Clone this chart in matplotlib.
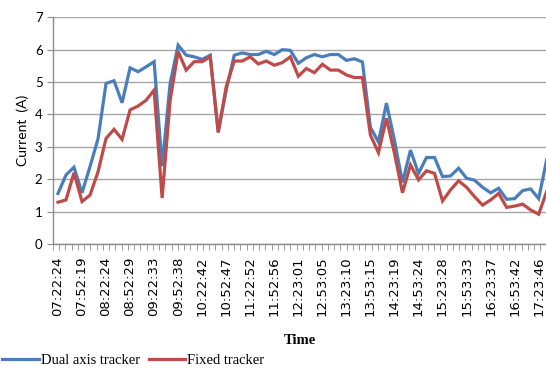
import numpy as np
import matplotlib.pyplot as plt

# Sampled every 10 min, time labels every 30 min
time_labels = [
    "07:22:24", "07:52:19", "08:22:24", "08:52:29", "09:22:33", "09:52:38",
    "10:22:42", "10:52:47", "11:22:52", "11:52:56", "12:23:01", "12:53:05",
    "13:23:10", "13:53:15", "14:23:19", "14:53:24", "15:23:28", "15:53:33",
    "16:23:37", "16:53:42", "17:23:46",
]

dual_axis = [
    1.56, 2.13, 2.37, 1.58, 2.39, 3.25, 4.96, 5.04, 4.36, 5.44,
    5.32, 5.47, 5.63, 2.4, 4.96, 6.14, 5.83, 5.78, 5.7, 5.83,
    3.47, 4.75, 5.83, 5.9, 5.85, 5.85, 5.95, 5.85, 6.0, 5.98,
    5.58, 5.75, 5.85, 5.78, 5.85, 5.85, 5.67, 5.72, 5.62, 3.6,
    3.15, 4.35, 3.2, 1.9, 2.9, 2.18, 2.67, 2.67, 2.08, 2.1,
    2.34, 2.03, 1.97, 1.75, 1.58, 1.72, 1.38, 1.4, 1.65, 1.7,
    1.4, 2.6,
]

fixed = [
    1.29, 1.36, 2.2, 1.31, 1.51, 2.23, 3.26, 3.54, 3.23, 4.14,
    4.26, 4.44, 4.75, 1.42, 4.44, 5.94, 5.37, 5.63, 5.63, 5.78,
    3.44, 4.86, 5.65, 5.65, 5.78, 5.56, 5.65, 5.52, 5.6, 5.78,
    5.18, 5.42, 5.29, 5.55, 5.37, 5.37, 5.22, 5.14, 5.14, 3.36,
    2.82, 3.88, 2.8, 1.58, 2.44, 1.98, 2.26, 2.18, 1.33, 1.67,
    1.95, 1.75, 1.46, 1.2, 1.36, 1.56, 1.13, 1.17, 1.23, 1.05,
    0.92, 1.62,
]

x = np.arange(len(dual_axis))

fig = plt.figure(figsize=(5.46, 3.68), dpi=100)
ax = fig.add_axes([0.097, 0.337, 0.905, 0.616])

ax.plot(x, dual_axis, color="#4A7EBB", lw=2.3, label="Dual axis tracker",
        solid_joinstyle="miter")
ax.plot(x, fixed, color="#BE4B48", lw=2.3, label="Fixed tracker",
        solid_joinstyle="miter")

ax.set_ylim(0, 7)
ax.set_xlim(-0.625, 61.05)
ax.set_yticks(range(0, 8))
ax.grid(True, axis="y", color="#a6a6a6", lw=1.0)
ax.set_axisbelow(True)

for s in ["top", "right"]:
    ax.spines[s].set_visible(False)
for s in ["left", "bottom"]:
    ax.spines[s].set_color("#8c8c8c")
    ax.spines[s].set_linewidth(1.0)

# labels every 3 samples, small tick marks along the axis
ax.set_xticks(x[::3][:len(time_labels)])
ax.set_xticklabels(time_labels, rotation=90, fontsize=9.5, family="DejaVu Sans")
ax.tick_params(axis="x", which="major", length=0, pad=9)
ax.set_xticks(np.arange(-0.625, 61.1, 0.78), minor=True)
ax.tick_params(axis="x", which="minor", length=4, color="#8c8c8c")
ax.tick_params(axis="y", length=4, color="#8c8c8c", labelsize=9.5)
for t in ax.get_yticklabels():
    t.set_family("Lato")

ax.set_ylabel("Current  (A)", fontsize=10, family="Lato", labelpad=4)
ax.set_xlabel("Time", fontsize=10.5, family="Liberation Serif",
              fontweight="bold", labelpad=13)

fig.legend(loc="lower left", bbox_to_anchor=(-0.012, -0.022), ncol=2,
           frameon=False, handlelength=2.5, handletextpad=0.15,
           columnspacing=0.6, borderaxespad=0.2,
           prop={"family": "Liberation Serif", "size": 10.5})

fig.savefig("out.png", dpi=100)
